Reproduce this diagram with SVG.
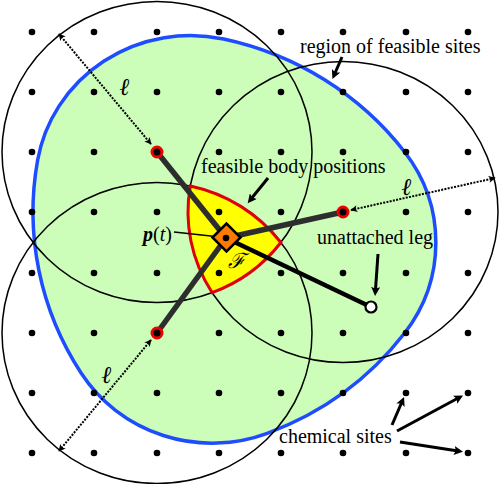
<svg xmlns="http://www.w3.org/2000/svg" width="500" height="484" viewBox="0 0 500 484">
<defs>
<style>
.circ{fill:none;stroke:#000;stroke-width:1.5}
.dot{fill:#000}
.lbl{font-size:20px;fill:#000}
.ell{font-size:24px;font-style:italic;font-weight:bold;fill:#000;text-anchor:middle}
.bar{stroke:#2d2d2d;stroke-width:5.5;stroke-linecap:butt}
.ptr{fill:none;stroke:#000;stroke-width:3;marker-end:url(#ah)}
.dim{fill:none;stroke:#000;stroke-width:2;stroke-dasharray:2 1.3;marker-start:url(#sh);marker-end:url(#sh)}
</style>
<marker id="ah" viewBox="0 0 10 10" refX="4.5" refY="5" markerWidth="11" markerHeight="9" markerUnits="userSpaceOnUse" orient="auto-start-reverse"><path d="M0,0 L10,5 L0,10 L2,5 z" fill="#000"/></marker>
<marker id="sh" viewBox="0 0 10 10" refX="9" refY="5" markerWidth="9" markerHeight="7" markerUnits="userSpaceOnUse" orient="auto-start-reverse"><path d="M0,0 L10,5 L0,10 L2.5,5 z" fill="#000"/></marker>
<marker id="th" viewBox="0 0 10 10" refX="9" refY="5" markerWidth="7" markerHeight="6" markerUnits="userSpaceOnUse" orient="auto"><path d="M0,0 L10,5 L0,10 z" fill="#000"/></marker>
</defs>
<rect width="500" height="484" fill="#fff"/>
<g id="feasible-sites-region">
<path d="M223.67,39.04 A310,301 0 0 1 404.67,151.97 A155,150.5 0 0 1 404.68,333.01 A310,301 0 0 1 267.27,433.3 A155,150.5 0 0 1 81.26,373.29 A310,301 0 0 1 37.65,160.05 A155,150.5 0 0 1 223.67,39.04 Z" fill="#ccfdb9" stroke="#1e4cff" stroke-width="3.5"/>
</g>
<g id="reach-circles">
<ellipse class="circ" cx="157" cy="152" rx="155" ry="150.5"/>
<ellipse class="circ" cx="343" cy="212" rx="155" ry="150.5"/>
<ellipse class="circ" cx="157" cy="333" rx="155" ry="150.5"/>
</g>
<g id="feasible-body-region">
<path d="M190.33,186.03 A155,150.5 0 0 1 280.84,242.5 A155,150.5 0 0 1 212.13,292.65 A155,150.5 0 0 1 190.33,186.03 Z" fill="#ffff00" stroke="#e0000a" stroke-width="3"/>
</g>
<g id="chemical-sites">
<circle class="dot" cx="32" cy="32" r="3.3"/><circle class="dot" cx="94" cy="32" r="3.3"/><circle class="dot" cx="157" cy="32" r="3.3"/><circle class="dot" cx="219" cy="32" r="3.3"/><circle class="dot" cx="281" cy="32" r="3.3"/><circle class="dot" cx="343" cy="32" r="3.3"/><circle class="dot" cx="406" cy="32" r="3.3"/><circle class="dot" cx="468" cy="32" r="3.3"/>
<circle class="dot" cx="32" cy="92" r="3.3"/><circle class="dot" cx="94" cy="92" r="3.3"/><circle class="dot" cx="157" cy="92" r="3.3"/><circle class="dot" cx="219" cy="92" r="3.3"/><circle class="dot" cx="281" cy="92" r="3.3"/><circle class="dot" cx="343" cy="92" r="3.3"/><circle class="dot" cx="406" cy="92" r="3.3"/><circle class="dot" cx="468" cy="92" r="3.3"/>
<circle class="dot" cx="32" cy="152" r="3.3"/><circle class="dot" cx="94" cy="152" r="3.3"/><circle class="dot" cx="219" cy="152" r="3.3"/><circle class="dot" cx="281" cy="152" r="3.3"/><circle class="dot" cx="343" cy="152" r="3.3"/><circle class="dot" cx="406" cy="152" r="3.3"/><circle class="dot" cx="468" cy="152" r="3.3"/>
<circle class="dot" cx="32" cy="212" r="3.3"/><circle class="dot" cx="94" cy="212" r="3.3"/><circle class="dot" cx="157" cy="212" r="3.3"/><circle class="dot" cx="219" cy="212" r="3.3"/><circle class="dot" cx="281" cy="212" r="3.3"/><circle class="dot" cx="406" cy="212" r="3.3"/><circle class="dot" cx="468" cy="212" r="3.3"/>
<circle class="dot" cx="32" cy="273" r="3.3"/><circle class="dot" cx="94" cy="273" r="3.3"/><circle class="dot" cx="157" cy="273" r="3.3"/><circle class="dot" cx="219" cy="273" r="3.3"/><circle class="dot" cx="281" cy="273" r="3.3"/><circle class="dot" cx="343" cy="273" r="3.3"/><circle class="dot" cx="406" cy="273" r="3.3"/><circle class="dot" cx="468" cy="273" r="3.3"/>
<circle class="dot" cx="32" cy="333" r="3.3"/><circle class="dot" cx="94" cy="333" r="3.3"/><circle class="dot" cx="219" cy="333" r="3.3"/><circle class="dot" cx="281" cy="333" r="3.3"/><circle class="dot" cx="343" cy="333" r="3.3"/><circle class="dot" cx="406" cy="333" r="3.3"/><circle class="dot" cx="468" cy="333" r="3.3"/>
<circle class="dot" cx="32" cy="393" r="3.3"/><circle class="dot" cx="94" cy="393" r="3.3"/><circle class="dot" cx="157" cy="393" r="3.3"/><circle class="dot" cx="219" cy="393" r="3.3"/><circle class="dot" cx="281" cy="393" r="3.3"/><circle class="dot" cx="343" cy="393" r="3.3"/><circle class="dot" cx="406" cy="393" r="3.3"/><circle class="dot" cx="468" cy="393" r="3.3"/>
<circle class="dot" cx="32" cy="453" r="3.3"/><circle class="dot" cx="94" cy="453" r="3.3"/><circle class="dot" cx="157" cy="453" r="3.3"/><circle class="dot" cx="219" cy="453" r="3.3"/><circle class="dot" cx="281" cy="453" r="3.3"/><circle class="dot" cx="343" cy="453" r="3.3"/><circle class="dot" cx="406" cy="453" r="3.3"/><circle class="dot" cx="468" cy="453" r="3.3"/>
</g>
<g id="connectors">
<line class="bar" x1="157" y1="152" x2="226" y2="238"/>
<line class="bar" x1="343" y1="212" x2="226" y2="238"/>
<line class="bar" x1="157" y1="333" x2="226" y2="238"/>
<line x1="226" y1="238" x2="371" y2="307" stroke="#000" stroke-width="4.5"/>
<line class="dim" x1="59" y1="34" x2="151" y2="144"/>
<line class="dim" x1="351" y1="210" x2="495" y2="178"/>
<line class="dim" x1="151" y1="340" x2="59" y2="451"/>
<line class="ptr" x1="342" y1="57" x2="334.4" y2="74.5"/>
<line class="ptr" x1="268" y1="178" x2="250.8" y2="199.3"/>
<line class="ptr" x1="378" y1="254" x2="375.4" y2="291"/>
<line class="ptr" x1="392" y1="425" x2="402.1" y2="401.5"/>
<line class="ptr" x1="397" y1="431" x2="458.7" y2="397.8"/>
<line class="ptr" x1="400" y1="442" x2="458.1" y2="451.1"/>
<line x1="174" y1="232" x2="220" y2="237" stroke="#000" stroke-width="1.5" marker-end="url(#th)"/>
</g>
<g id="leg-1"><circle cx="157" cy="152" r="5" fill="#000" stroke="#ee0000" stroke-width="3"/></g>
<g id="leg-2"><circle cx="343" cy="212" r="5" fill="#000" stroke="#ee0000" stroke-width="3"/></g>
<g id="leg-3"><circle cx="157" cy="333" r="5" fill="#000" stroke="#ee0000" stroke-width="3"/></g>
<g id="unattached-leg"><circle cx="371" cy="307" r="5.5" fill="#fff" stroke="#000" stroke-width="2.2"/></g>
<g id="body">
<polygon points="212.5,237.5 226.5,223.5 240.5,237.5 226.5,251.5" fill="#ff7a00" stroke="#000" stroke-width="2.5"/>
<circle cx="226" cy="238" r="3.3" fill="#000"/>
</g>
<g id="labels" font-family="Liberation Serif, Times New Roman, DejaVu Serif, serif">
<text class="lbl" x="300" y="53">region of feasible sites</text>
<text class="lbl" x="201" y="173">feasible body positions</text>
<text class="lbl" x="317" y="244">unattached leg</text>
<text class="lbl" x="279" y="443">chemical sites</text>
<text class="lbl" x="143" y="241"><tspan font-style="italic" font-weight="bold">p</tspan>(<tspan font-style="italic">t</tspan>)</text>
<text x="236" y="268" font-family="DejaVu Serif, serif" font-size="21" font-style="italic" text-anchor="middle">ℱ</text>
<text class="ell" x="125" y="95">ℓ</text>
<text class="ell" x="407" y="195">ℓ</text>
<text class="ell" x="107" y="383">ℓ</text>
</g>
</svg>
